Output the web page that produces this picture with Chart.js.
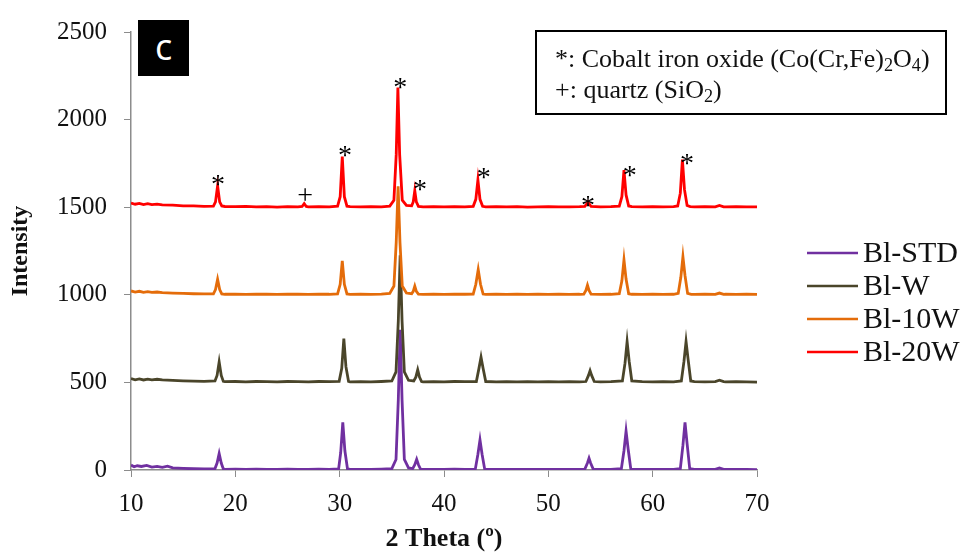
<!DOCTYPE html>
<html>
<head>
<meta charset="utf-8">
<title>XRD</title>
<script src="https://cdn.jsdelivr.net/npm/chart.js@4/dist/chart.umd.min.js"></script>
<style>
  html, body { margin: 0; padding: 0; background: #fff; }
  #wrap { position: relative; width: 970px; height: 558px; }
  #tag {
    position: absolute; left: 138px; top: 20px; width: 51px; height: 56px;
    background: #000; color: #fff; font: 36px "Open Sans", sans-serif;
    text-align: center; line-height: 54px;
  }
  #phases {
    position: absolute; left: 535px; top: 30px; width: 408px; height: 81px;
    border: 2px solid #000; font: 26px "Liberation Serif", serif; color: #111;
    box-sizing: content-box;
  }
  #phases div { position: absolute; left: 18px; white-space: nowrap; }
  #phases sub { font-size: 70%; vertical-align: -4px; line-height: 0; }
</style>
</head>
<body>
<div id="wrap">
  <canvas id="xrd" width="970" height="558"></canvas>
  <div id="tag">c</div>
  <div id="phases">
    <div style="top:12px">*: Cobalt iron oxide (Co(Cr,Fe)<sub>2</sub>O<sub>4</sub>)</div>
    <div style="top:43px">+: quartz (SiO<sub>2</sub>)</div>
  </div>
</div>
<script>
// 4개 시료 XRD 패턴 (세로로 500씩 띄워서 그림) — [2θ, intensity]
const BL_STD = [
  [10, 28], [10.3, 18], [10.6, 24], [11, 20], [11.5, 26], [12, 17], [12.5, 21], [13, 15],
  [13.5, 22], [14, 12], [15, 9], [16, 7], [17, 6], [18.05, 8], [18.25, 40], [18.45, 94],
  [18.65, 40], [18.85, 6], [19, 4], [20, 5], [21, 3], [22, 5], [23, 4], [24, 3], [25, 5],
  [26, 4], [27, 3], [28, 5], [29, 4], [29.9, 6], [30.1, 100], [30.3, 272], [30.5, 110],
  [30.75, 6], [31, 3], [32, 4], [33, 3], [34, 5], [35.0, 8], [35.4, 60], [35.62, 400],
  [35.8, 800], [35.98, 400], [36.2, 60], [36.6, 12], [37.0, 8], [37.2, 30], [37.38, 61],
  [37.55, 30], [37.75, 5], [38, 3], [39, 4], [40, 3], [41, 5], [42, 4], [43.0, 5],
  [43.25, 90], [43.45, 172], [43.65, 90], [43.9, 5], [44, 3], [45, 4], [46, 3], [47, 4],
  [48, 3], [49, 4], [50, 3], [51, 4], [52, 3], [53, 4], [53.5, 5], [53.75, 40], [53.9, 67],
  [54.05, 40], [54.3, 5], [55, 3], [56, 4], [57.0, 8], [57.25, 110], [57.45, 222],
  [57.65, 120], [57.9, 8], [58, 4], [59, 3], [60, 4], [61, 3], [62, 4], [62.65, 8],
  [62.9, 140], [63.1, 272], [63.3, 150], [63.55, 8], [64, 4], [65, 3], [66, 4], [66.4, 12],
  [66.8, 4], [67, 3], [68, 4], [69, 3], [70, 2],
];
const BL_W = [
  [10, 522], [10.4, 515], [10.8, 520], [11.2, 514], [11.6, 519], [12, 515], [12.5, 518],
  [13, 514], [14, 511], [15, 509], [16, 507], [17, 506], [18.05, 508], [18.25, 540],
  [18.45, 617], [18.65, 540], [18.85, 506], [19, 504], [20, 505], [21, 503], [22, 505],
  [23, 504], [24, 503], [25, 505], [26, 504], [27, 503], [28, 505], [29, 504], [29.95, 506],
  [30.2, 580], [30.4, 750], [30.6, 590], [30.85, 506], [31, 503], [32, 504], [33, 503],
  [34, 505], [35.0, 508], [35.4, 560], [35.62, 850], [35.8, 1225], [35.98, 850], [36.2, 560],
  [36.6, 512], [37.1, 508], [37.3, 530], [37.48, 572], [37.65, 530], [37.85, 505], [38, 503],
  [39, 504], [40, 503], [41, 505], [42, 504], [43.1, 505], [43.35, 580], [43.55, 644],
  [43.75, 580], [44, 505], [45, 503], [46, 504], [47, 503], [48, 504], [49, 503], [50, 504],
  [51, 503], [52, 504], [53, 503], [53.6, 505], [53.85, 540], [54.0, 567], [54.15, 540],
  [54.4, 505], [55, 503], [56, 504], [57.1, 508], [57.35, 610], [57.55, 733], [57.75, 620],
  [58, 508], [59, 504], [60, 503], [61, 504], [62, 503], [62.75, 508], [63.0, 620],
  [63.2, 733], [63.4, 630], [63.65, 508], [64, 504], [65, 503], [66, 504], [66.4, 512],
  [66.8, 504], [67, 503], [68, 504], [69, 503], [70, 502],
];
const BL_10W = [
  [10, 1022], [10.4, 1015], [10.8, 1020], [11.2, 1014], [11.6, 1018], [12, 1014], [12.5, 1016],
  [13, 1012], [14, 1010], [15, 1008], [16, 1006], [17, 1005], [17.9, 1006], [18.1, 1030],
  [18.3, 1089], [18.5, 1030], [18.7, 1005], [19, 1003], [20, 1004], [21, 1002], [22, 1004],
  [23, 1003], [24, 1002], [25, 1004], [26, 1003], [27, 1002], [28, 1004], [29, 1003],
  [29.8, 1005], [30.05, 1060], [30.25, 1194], [30.45, 1060], [30.7, 1005], [31, 1002],
  [32, 1003], [33, 1002], [34, 1004], [34.8, 1008], [35.2, 1050], [35.42, 1300], [35.6, 1620],
  [35.78, 1300], [36, 1050], [36.4, 1010], [36.9, 1006], [37.05, 1020], [37.2, 1050],
  [37.35, 1020], [37.55, 1004], [38, 1002], [39, 1003], [40, 1002], [41, 1004], [42, 1003],
  [42.8, 1004], [43.05, 1060], [43.28, 1144], [43.5, 1060], [43.75, 1004], [44, 1002],
  [45, 1003], [46, 1002], [47, 1003], [48, 1002], [49, 1003], [50, 1002], [51, 1003],
  [52, 1002], [53, 1003], [53.4, 1004], [53.6, 1025], [53.75, 1055], [53.9, 1025],
  [54.1, 1004], [55, 1002], [56, 1003], [56.8, 1006], [57.05, 1080], [57.25, 1200],
  [57.45, 1090], [57.7, 1006], [58, 1003], [59, 1002], [60, 1003], [61, 1002], [62, 1003],
  [62.45, 1008], [62.7, 1100], [62.9, 1217], [63.1, 1110], [63.35, 1008], [63.7, 1003],
  [64, 1002], [65, 1003], [66, 1002], [66.4, 1010], [66.8, 1002], [67, 1003], [68, 1002],
  [69, 1003], [70, 1002],
];
const BL_20W = [
  [10, 1524], [10.4, 1517], [10.8, 1522], [11.2, 1515], [11.6, 1520], [12, 1515], [12.5, 1517],
  [13, 1513], [14, 1512], [15, 1508], [16, 1507], [17, 1505], [17.9, 1506], [18.1, 1530],
  [18.3, 1622], [18.5, 1530], [18.7, 1507], [19, 1504], [20, 1503], [21, 1505], [22, 1502],
  [23, 1503], [24, 1501], [25, 1503], [26, 1502], [26.4, 1504], [26.6, 1520], [26.8, 1504],
  [27, 1502], [28, 1503], [29, 1502], [29.8, 1506], [30.05, 1560], [30.25, 1789], [30.45, 1560],
  [30.7, 1506], [31, 1503], [32, 1502], [33, 1503], [34, 1502], [34.8, 1506], [35.2, 1540],
  [35.42, 1800], [35.58, 2183], [35.75, 1800], [36, 1540], [36.4, 1510], [36.9, 1508],
  [37.05, 1530], [37.2, 1594], [37.35, 1530], [37.55, 1505], [38, 1502], [39, 1503],
  [40, 1502], [41, 1503], [42, 1502], [42.8, 1505], [43.05, 1545], [43.25, 1656], [43.45, 1545],
  [43.7, 1505], [44, 1502], [45, 1503], [46, 1502], [47, 1503], [48, 1501], [49, 1502],
  [50, 1503], [51, 1502], [52, 1502], [53, 1503], [53.5, 1505], [53.7, 1520], [53.8, 1530],
  [53.9, 1520], [54.1, 1504], [55, 1502], [56, 1503], [56.8, 1506], [57.05, 1560],
  [57.25, 1711], [57.45, 1570], [57.7, 1507], [58, 1503], [59, 1502], [60, 1503], [61, 1502],
  [62, 1503], [62.4, 1507], [62.65, 1580], [62.85, 1772], [63.05, 1600], [63.3, 1510],
  [63.6, 1503], [64, 1502], [65, 1503], [66, 1502], [66.4, 1510], [66.8, 1502], [67, 1502],
  [68, 1503], [69, 1502], [70, 1502],
];

const SERIES_NAMES = ["Bl-STD", "Bl-W", "Bl-10W", "Bl-20W"];
const SERIES_COLORS = ["#7030A0", "#4A452A", "#E46C0A", "#FF0000"];
const SERIES_DATA = [BL_STD, BL_W, BL_10W, BL_20W];

// 피크 표시: * = 코발트 철 산화물, + = 석영  [2θ, intensity, 기호]
const PEAK_MARKS = [
  [18.35, 1656, "*"], [26.7, 1556, "+"], [30.5, 1822, "*"], [35.8, 2211, "*"],
  [37.7, 1628, "*"], [43.8, 1694, "*"], [53.8, 1539, "*"], [57.8, 1706, "*"],
  [63.3, 1778, "*"],
];

const X_MIN = 10, X_MAX = 70, X_STEP = 10;
const Y_MIN = 0, Y_MAX = 2500, Y_STEP = 500;

const SERIF = '"Liberation Serif", "Times New Roman", serif';
const AXIS_GREY = "#8c8c8c";

const peakMarks = {
  id: "peakMarks",
  afterDatasetsDraw(chart) {
    const { ctx, scales: { x, y } } = chart;
    ctx.save();
    ctx.fillStyle = "#000";
    ctx.textAlign = "center";
    ctx.textBaseline = "alphabetic";
    ctx.font = `28px ${SERIF}`;
    PEAK_MARKS.forEach(([tx, ty, sym]) => {
      const off = sym === "*" ? 0.47 * 28 : 0.25 * 28;
      ctx.fillText(sym, x.getPixelForValue(tx), y.getPixelForValue(ty) + off);
    });
    ctx.restore();
  },
};

// 오른쪽 범례 (선 + 시료명)
const sideLegend = {
  id: "sideLegend",
  afterDraw(chart) {
    const { ctx } = chart;
    ctx.save();
    ctx.font = `30px ${SERIF}`;
    ctx.textBaseline = "middle";
    ctx.fillStyle = "#111";
    chart.data.datasets.forEach((ds, i) => {
      const yy = 253 + i * 33;
      ctx.strokeStyle = ds.borderColor;
      ctx.lineWidth = 2.5;
      ctx.beginPath();
      ctx.moveTo(807, yy);
      ctx.lineTo(858, yy);
      ctx.stroke();
      ctx.fillText(ds.label, 863, yy + 1);
    });
    ctx.restore();
  },
};

new Chart(document.getElementById("xrd"), {
  type: "line",
  data: {
    datasets: SERIES_NAMES.map((name, i) => ({
      label: name,
      data: SERIES_DATA[i].map(([a, b]) => ({ x: a, y: b })),
      borderColor: SERIES_COLORS[i],
      borderWidth: 2.8,
      pointRadius: 0,
      tension: 0,
      order: SERIES_NAMES.length - 1 - i,
    })),
  },
  options: {
    responsive: false,
    animation: false,
    devicePixelRatio: 1,
    layout: { padding: { top: 20, right: 213, bottom: 0, left: 0 } },
    plugins: { legend: { display: false }, tooltip: { enabled: false } },
    scales: {
      x: {
        type: "linear", min: X_MIN, max: X_MAX,
        afterFit: (s) => { s.height = 88; },
        ticks: { stepSize: X_STEP, padding: 12, color: "#111", font: { family: SERIF, size: 25 } },
        grid: { drawOnChartArea: false, tickLength: 7, color: AXIS_GREY },
        border: { color: AXIS_GREY, width: 1.5 },
        title: {
          display: true, text: "2 Theta (º)", color: "#111",
          font: { family: SERIF, size: 26, weight: "bold" }, padding: { top: 0, bottom: 3 },
        },
      },
      y: {
        min: Y_MIN, max: Y_MAX,
        afterFit: (s) => { s.width = 131; },
        ticks: {
          stepSize: Y_STEP, padding: 17, color: "#111", font: { family: SERIF, size: 25 },
          callback: (v) => String(v),
        },
        grid: { drawOnChartArea: false, tickLength: 7, color: AXIS_GREY },
        border: { color: AXIS_GREY, width: 1.5 },
        title: {
          display: true, text: "Intensity", color: "#111",
          font: { family: SERIF, size: 24, weight: "bold" }, padding: { top: 6, bottom: 0 },
        },
      },
    },
  },
  plugins: [peakMarks, sideLegend],
});
</script>
</body>
</html>
